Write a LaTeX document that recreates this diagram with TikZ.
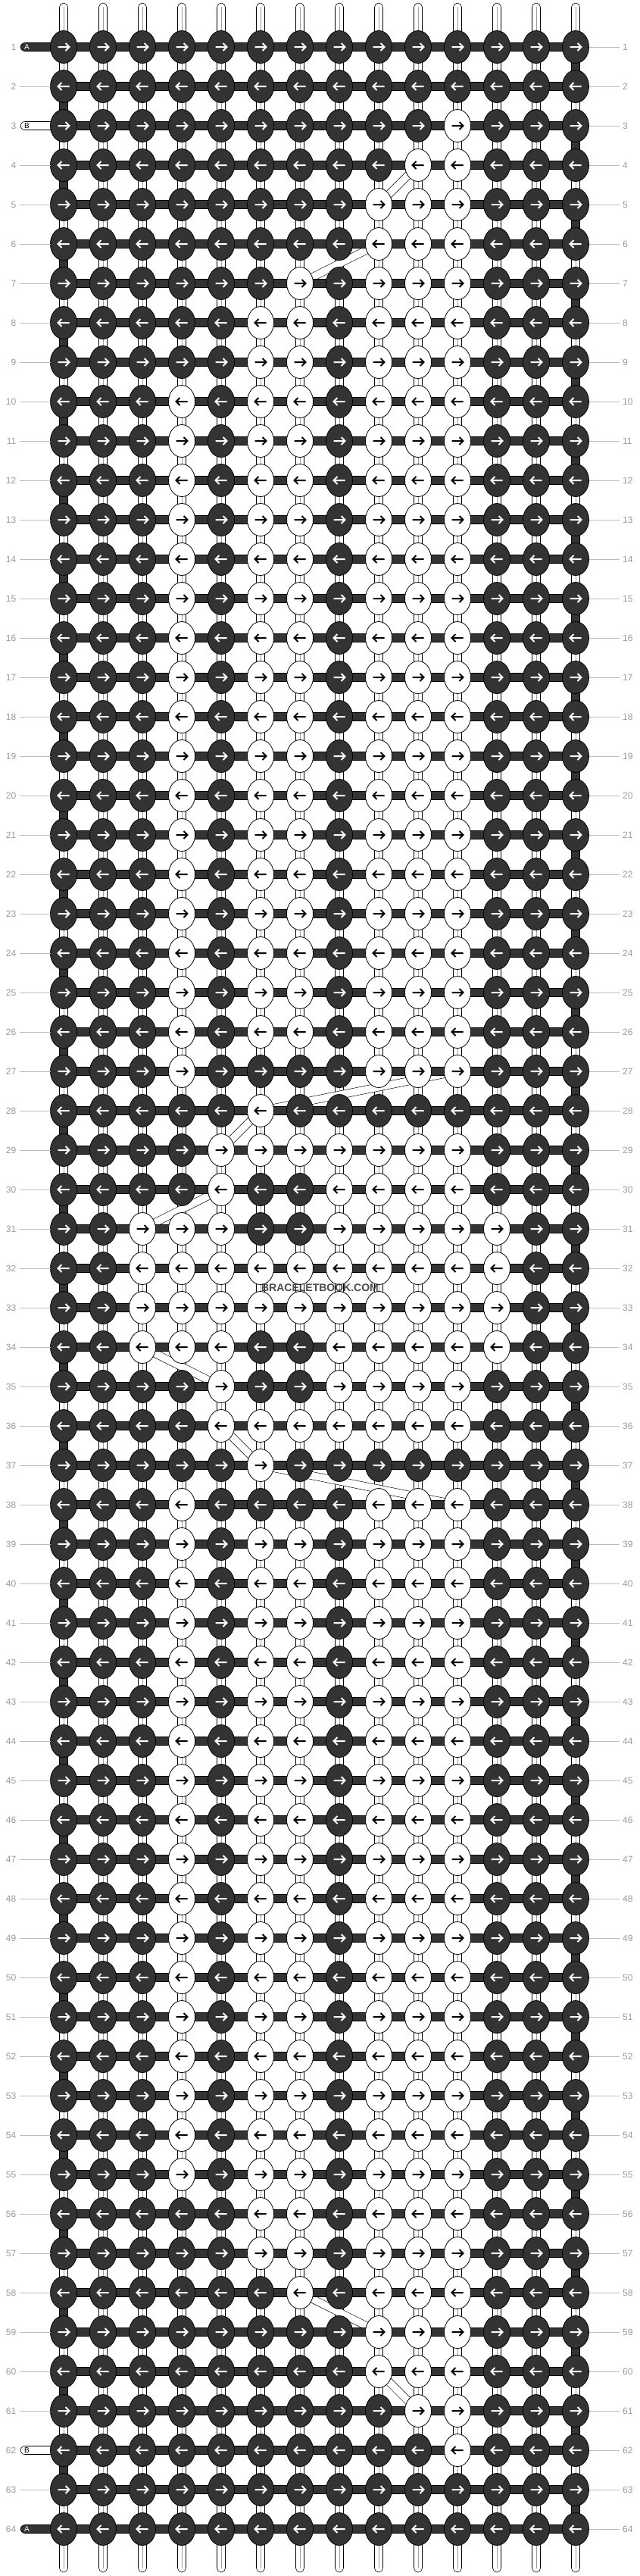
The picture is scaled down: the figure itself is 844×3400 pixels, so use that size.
\documentclass[tikz,border=0pt]{standalone}
\usepackage{fontspec}
\setmainfont{Liberation Sans}
\usetikzlibrary{shapes.geometric,calc}
\definecolor{dk}{HTML}{333333}
\definecolor{numgray}{HTML}{9A9A9A}
\definecolor{linegray}{HTML}{BDBDBD}
\makeatletter
\newcommand\setkfill[2]{\edef\kc@tmp{\noexpand\in@{,#2,}{,#1,}}\kc@tmp
  \ifin@\def\kfc{white}\def\kac{black}\else\def\kfc{dk}\def\kac{white}\fi}
\makeatother
\def\std{4,6,7,9,10,11}
\begin{document}
\begin{tikzpicture}[x=1pt,y=-1pt,
  knot/.style={ellipse,draw=black,line width=0.8pt,minimum width=35pt,minimum height=43pt,inner sep=0pt,outer sep=0pt},
  arr/.style={line width=2pt},
  hbar/.style={draw=black,line width=0.6pt,fill=dk},
  vdark/.style={draw=black,line width=0.6pt,fill=dk},
  vwhite/.style={draw=black,line width=0.6pt,fill=white},
  midline/.style={draw=black!38,line width=0.6pt},
  diag/.style={draw=black,line width=0.6pt,double=white,double distance=9.5pt},
  tube/.style={draw=black,line width=0.6pt,fill=white,rounded corners=5.5pt},
  tailA/.style={draw=black,line width=0.6pt,fill=dk,rounded corners=6pt},
  tailB/.style={draw=black,line width=0.6pt,fill=white,rounded corners=6pt},
  taillbl/.style={font=\fontsize{10}{10}\selectfont,inner sep=0pt},
  numlbl/.style={text=numgray,font=\fontsize{12}{12}\selectfont,inner sep=0pt},
  rowline/.style={draw=linegray,line width=0.8pt},
  wmark/.style={font=\bfseries\fontsize{14}{14}\selectfont,text=black!78,text opacity=0.9,inner sep=0pt}
]
\fill[white] (0,0) rectangle (844,3400);
\useasboundingbox (0,0) rectangle (844,3400);
% grid points
\foreach \r in {1,...,64}{
  \foreach \c in {1,...,14}{
    \coordinate (p-\r-\c) at ({84+(\c-1)*52},{62+(\r-1)*52});
  }
}
% top and bottom strands
\foreach \c in {1,...,14}{
  \draw[tube] ($(p-1-\c)+(-5.5,0)$) rectangle ($(p-1-\c)+(5.5,-58)$);
  \draw[midline] ($(p-1-\c)+(0,-53)$) -- (p-1-\c);
  \draw[tube] ($(p-64-\c)+(-5.5,0)$) rectangle ($(p-64-\c)+(5.5,57)$);
  \draw[midline] ($(p-64-\c)+(0,52)$) -- (p-64-\c);
}
% vertical connectors
\foreach \r [evaluate=\r as \rn using int(\r+1)] in {1,...,63}{
  \foreach \c in {1,...,14}{
    \def\vd{0}
    \ifnum\c=1\relax\ifodd\r\relax\else\def\vd{1}\fi\fi
    \ifnum\c=14\relax\ifodd\r\relax\def\vd{1}\fi\fi
    \ifnum\vd=1\relax
      \draw[vdark] ($(p-\r-\c)+(-5.5,0)$) rectangle ($(p-\rn-\c)+(5.5,0)$);
    \else
      \draw[vwhite] ($(p-\r-\c)+(-5.5,0)$) rectangle ($(p-\rn-\c)+(5.5,0)$);
      \draw[midline] (p-\r-\c) -- (p-\rn-\c);
    \fi
  }
}
% diagonal strands
\foreach \ra/\ca/\rb/\cb in {4/10/5/9, 6/9/7/7, 27/11/28/6, 28/6/29/5, 30/5/31/3,
  34/3/35/5, 36/5/37/6, 37/6/38/11, 58/7/59/9, 60/9/61/10}{
  \draw[diag] (p-\ra-\ca) -- (p-\rb-\cb);
}
% tails
\draw[tailA] ($(p-1-1)+(-57,-5.5)$) rectangle ($(p-1-1)+(0,5.5)$);
\draw[tailB] ($(p-3-1)+(-57,-5.5)$) rectangle ($(p-3-1)+(0,5.5)$);
\draw[tailB] ($(p-62-1)+(-57,-5.5)$) rectangle ($(p-62-1)+(0,5.5)$);
\draw[tailA] ($(p-64-1)+(-57,-5.5)$) rectangle ($(p-64-1)+(0,5.5)$);
% horizontal working threads
\foreach \r in {1,...,64}{
  \draw[hbar] ($(p-\r-1)+(0,-5.5)$) rectangle ($(p-\r-14)+(0,5.5)$);
}
% knots
\foreach \r/\ws in {1/0,2/0,3/11,4/{10,11},5/{9,10,11},6/{9,10,11},7/{7,9,10,11},
  8/{6,7,9,10,11},9/{6,7,9,10,11},
  10/\std,11/\std,12/\std,13/\std,14/\std,15/\std,16/\std,17/\std,18/\std,
  19/\std,20/\std,21/\std,22/\std,23/\std,24/\std,25/\std,26/\std,
  27/{4,9,10,11},28/6,29/{5,6,7,8,9,10,11},30/{5,8,9,10,11},
  31/{3,4,5,8,9,10,11,12},32/{3,4,5,6,7,8,9,10,11,12},33/{3,4,5,6,7,8,9,10,11,12},
  34/{3,4,5,8,9,10,11,12},35/{5,8,9,10,11},36/{5,6,7,8,9,10,11},37/6,38/{4,9,10,11},
  39/\std,40/\std,41/\std,42/\std,43/\std,44/\std,45/\std,46/\std,47/\std,
  48/\std,49/\std,50/\std,51/\std,52/\std,53/\std,54/\std,55/\std,
  56/{6,7,9,10,11},57/{6,7,9,10,11},58/{7,9,10,11},59/{9,10,11},60/{9,10,11},
  61/{10,11},62/11,63/0,64/0}{
  \foreach \c in {1,...,14}{
    \setkfill{\ws}{\c}
    \node[knot,fill=\kfc] (k-\r-\c) at (p-\r-\c) {};
    \ifodd\r\relax
      \draw[arr,draw=\kac] ($(p-\r-\c)+(-7.5,0)$) -- ++(15,0) ++(-5,-5) -- ++(5,5) -- ++(-5,5);
    \else
      \draw[arr,draw=\kac] ($(p-\r-\c)+(7.5,0)$) -- ++(-15,0) ++(5,-5) -- ++(-5,5) -- ++(5,5);
    \fi
  }
}
% tail letters
\node[taillbl,text=white] (ta-1) at ($(p-1-1)+(-48.5,0)$) {A};
\node[taillbl,text=black] (tb-3) at ($(p-3-1)+(-48.5,0)$) {B};
\node[taillbl,text=black] (tb-62) at ($(p-62-1)+(-48.5,0)$) {B};
\node[taillbl,text=white] (ta-64) at ($(p-64-1)+(-48.5,0)$) {A};
% row numbers
\foreach \r in {1,...,64}{
  \node[numlbl,anchor=east] (nl-\r) at ($(p-\r-1)+(-62.5,0)$) {\r};
  \node[numlbl,anchor=west] (nr-\r) at ($(p-\r-14)+(62,0)$) {\r};
  \pgfmathtruncatemacro\hastail{(\r==1)||(\r==3)||(\r==62)||(\r==64)}
  \ifnum\hastail=0\relax
    \draw[rowline] ($(nl-\r.east)+(4.5,0)$) -- (k-\r-1.west);
  \fi
  \draw[rowline] (k-\r-14.east) -- ($(nr-\r.west)+(-4,0)$);
}
% watermark
\node[wmark] (wm) at (422.5,1700) {BRACELETBOOK.COM};
\end{tikzpicture}
\end{document}
